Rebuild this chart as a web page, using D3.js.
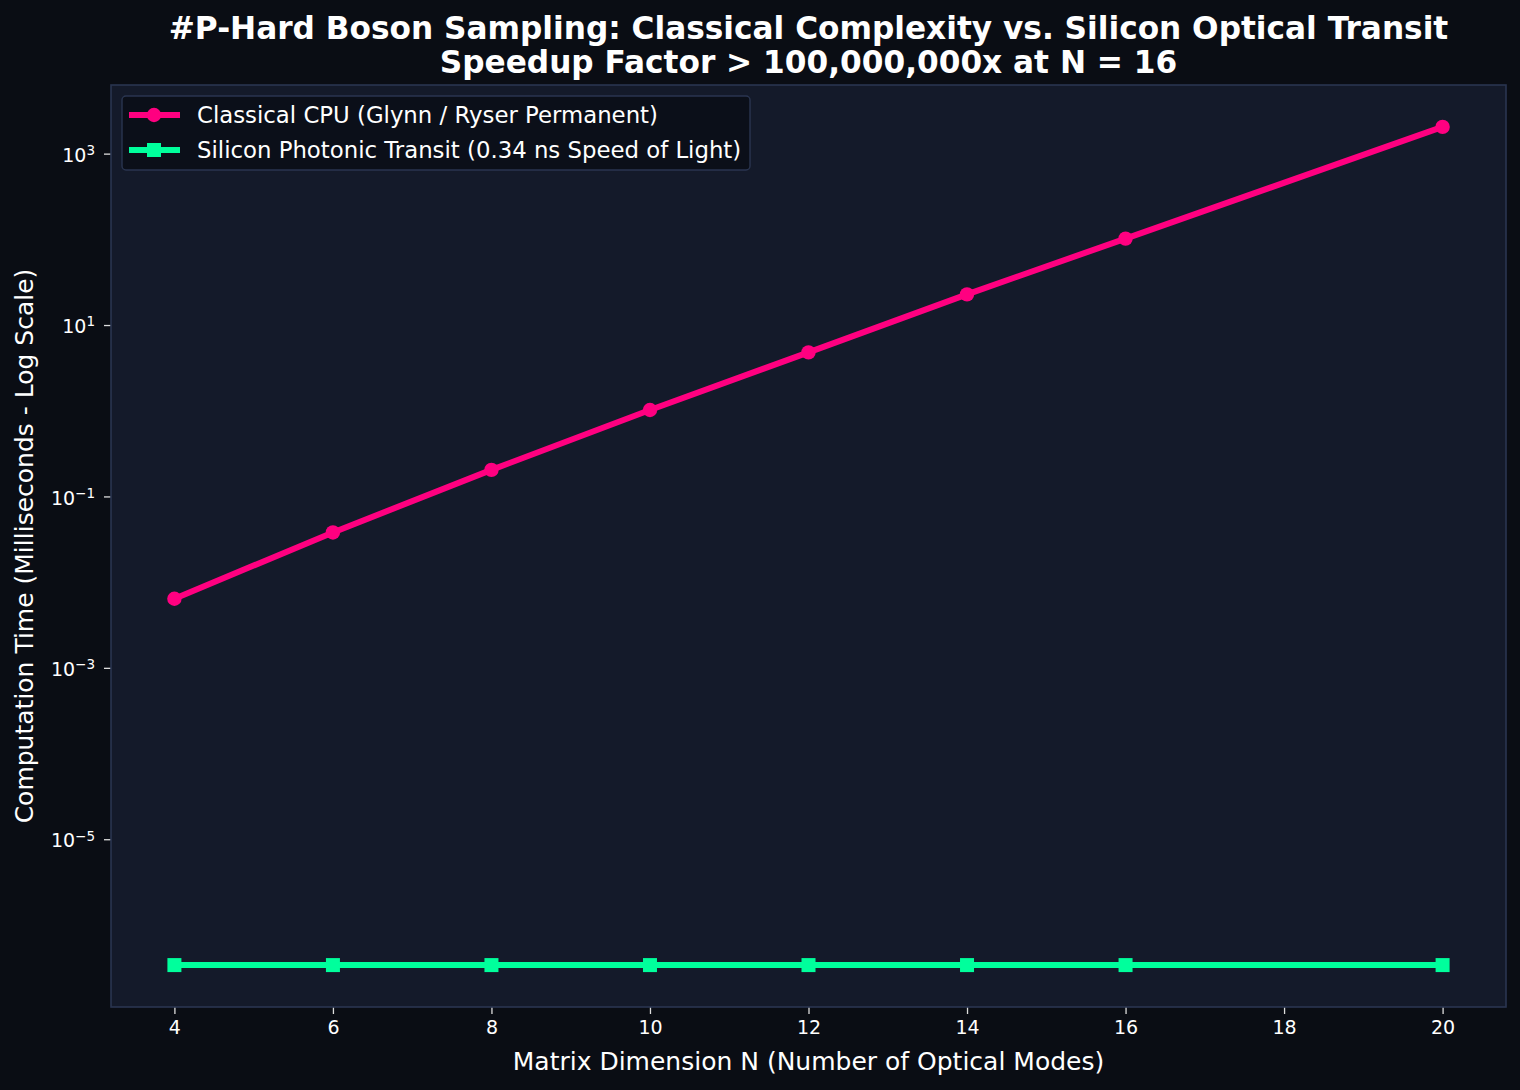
<!DOCTYPE html>
<html lang="en">
<head>
    <meta charset="UTF-8">
    <title>Boson Sampling</title>
    <script src="https://cdn.jsdelivr.net/npm/d3@7"></script>
    <style>
        body { margin: 0; background: #0a0d14; }
        svg { display: block; font-family: "DejaVu Sans", sans-serif; }
    </style>
</head>
<body>
<svg width="1520" height="1090"></svg>
<script>
    // data
    var modes = [4, 6, 8, 10, 12, 14, 16, 20];
    var classicalMs = [0.0064, 0.038, 0.204, 1.02, 4.8, 22.8, 102, 2050];
    var photonicMs = [3.4e-7, 3.4e-7, 3.4e-7, 3.4e-7, 3.4e-7, 3.4e-7, 3.4e-7, 3.4e-7];
    var xTicks = [4, 6, 8, 10, 12, 14, 16, 18, 20];
    var yTickExp = [-5, -3, -1, 1, 3];
    var seriesNames = ["Classical CPU (Glynn / Ryser Permanent)", "Silicon Photonic Transit (0.34 ns Speed of Light)"];

    var svg = d3.select("svg");
    var pl = 111, pr = 1506, pt = 85, pb = 1007;
    var pink = "#ff0080", green = "#00ff9c";
    var lw = 6;

    svg.append("rect").attr("width", 1520).attr("height", 1090).attr("fill", "#0a0d14");
    svg.append("rect").attr("x", pl).attr("y", pt)
        .attr("width", pr - pl).attr("height", pb - pt)
        .attr("fill", "#141a2a");

    var x = d3.scaleLinear().domain([3.2, 20.8]).range([pl, pr]);
    var lo = Math.log10(3.4e-7), hi = Math.log10(2050), pad = (hi - lo) * 0.05;
    var y = d3.scaleLog().domain([Math.pow(10, lo - pad), Math.pow(10, hi + pad)]).range([pb, pt]);

    // x axis
    var xa = svg.append("g").attr("transform", "translate(0," + pb + ")")
        .call(d3.axisBottom(x).tickValues(xTicks).tickSize(7).tickPadding(7).tickFormat(d3.format("d")));
    xa.select(".domain").remove();
    xa.selectAll("line").attr("stroke", "#dddddd").attr("stroke-width", 1.3);
    xa.selectAll("text").attr("fill", "#ffffff").attr("font-size", 19).attr("font-family", "DejaVu Sans");

    // y axis (log, labels as 10^n)
    var ya = svg.append("g").attr("transform", "translate(" + pl + ",0)")
        .call(d3.axisLeft(y).tickValues(yTickExp.map(function (e) { return Math.pow(10, e); }))
            .tickSize(7).tickPadding(6).tickFormat(""));
    ya.select(".domain").remove();
    ya.selectAll("line").attr("stroke", "#dddddd").attr("stroke-width", 1.3);
    ya.selectAll(".tick").each(function (d) {
        var e = Math.round(Math.log10(d));
        var t = d3.select(this).append("text")
            .attr("x", -16).attr("dy", "0.4em")
            .attr("text-anchor", "end").attr("fill", "#ffffff")
            .attr("font-size", 19).attr("font-family", "DejaVu Sans");
        t.append("tspan").text("10");
        t.append("tspan").attr("dy", "-0.5em").attr("font-size", 13.5).text(e < 0 ? "\u2212" + (-e) : e);
    });

    // spines
    svg.append("rect").attr("x", pl).attr("y", pt)
        .attr("width", pr - pl).attr("height", pb - pt)
        .attr("fill", "none").attr("stroke", "#2a3550").attr("stroke-width", 1.6);

    // lines
    var line = d3.line().x(function (d) { return x(d[0]); }).y(function (d) { return y(d[1]); });
    var classical = modes.map(function (n, i) { return [n, classicalMs[i]]; });
    var photonic = modes.map(function (n, i) { return [n, photonicMs[i]]; });

    svg.append("path").datum(classical).attr("d", line)
        .attr("fill", "none").attr("stroke", pink).attr("stroke-width", lw).attr("stroke-linejoin", "round");
    svg.selectAll(".cdot").data(classical).enter().append("circle")
        .attr("cx", function (d) { return x(d[0]); })
        .attr("cy", function (d) { return y(d[1]); })
        .attr("r", 7.2).attr("fill", pink);

    svg.append("path").datum(photonic).attr("d", line)
        .attr("fill", "none").attr("stroke", green).attr("stroke-width", lw);
    svg.selectAll(".pdot").data(photonic).enter().append("rect")
        .attr("x", function (d) { return x(d[0]) - 7; })
        .attr("y", function (d) { return y(d[1]) - 7; })
        .attr("width", 14).attr("height", 14).attr("fill", green);

    // legend
    var lg = svg.append("g").attr("transform", "translate(122,96)");
    lg.append("rect").attr("width", 628).attr("height", 74).attr("rx", 4)
        .attr("fill", "#0b0f19").attr("stroke", "#2a3550").attr("stroke-width", 1.4);
    [pink, green].forEach(function (c, i) {
        var cy = 19 + i * 35;
        lg.append("line").attr("x1", 7).attr("x2", 58).attr("y1", cy).attr("y2", cy)
            .attr("stroke", c).attr("stroke-width", lw);
        if (i === 0) {
            lg.append("circle").attr("cx", 32).attr("cy", cy).attr("r", 7.2).attr("fill", c);
        } else {
            lg.append("rect").attr("x", 25).attr("y", cy - 7).attr("width", 14).attr("height", 14).attr("fill", c);
        }
        lg.append("text").attr("x", 75).attr("y", cy).attr("dy", "0.36em")
            .attr("fill", "#ffffff").attr("font-size", 22.8).text(seriesNames[i]);
    });

    // titles and labels
    var cx = (pl + pr) / 2;
    svg.append("text").attr("x", cx).attr("y", 39).attr("text-anchor", "middle")
        .attr("fill", "#ffffff").attr("font-size", 31.2).attr("font-weight", "bold")
        .text("#P-Hard Boson Sampling: Classical Complexity vs. Silicon Optical Transit");
    svg.append("text").attr("x", cx).attr("y", 73).attr("text-anchor", "middle")
        .attr("fill", "#ffffff").attr("font-size", 31.2).attr("font-weight", "bold")
        .text("Speedup Factor > 100,000,000x at N = 16");
    svg.append("text").attr("x", cx).attr("y", 1070).attr("text-anchor", "middle")
        .attr("fill", "#ffffff").attr("font-size", 25)
        .text("Matrix Dimension N (Number of Optical Modes)");
    svg.append("text").attr("transform", "translate(33," + (pt + pb) / 2 + ") rotate(-90)")
        .attr("text-anchor", "middle").attr("fill", "#ffffff").attr("font-size", 25)
        .text("Computation Time (Milliseconds - Log Scale)");
</script>
</body>
</html>
